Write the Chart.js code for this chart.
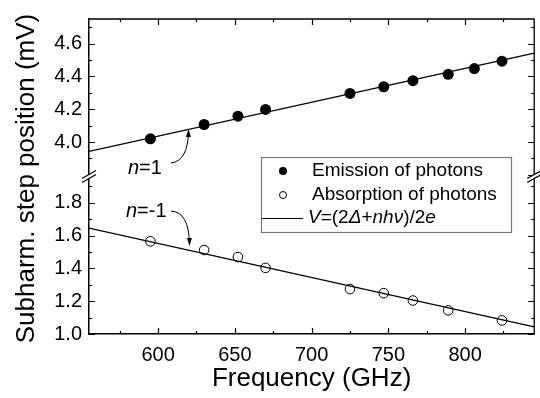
<!DOCTYPE html>
<html>
<head>
<meta charset="utf-8">
<script src="https://cdn.jsdelivr.net/npm/chart.js@4/dist/chart.umd.min.js"></script>
<style>
  html, body { margin: 0; padding: 0; background: #fff; }
</style>
</head>
<body>
<canvas id="c" width="540" height="398"></canvas>
<script>
// frequencies (GHz) and step positions (mV)
const freqEmission = [595, 630, 652, 670, 725, 747, 766, 789, 806, 824];
const vEmission = [4.020, 4.107, 4.158, 4.199, 4.296, 4.337, 4.374, 4.413, 4.448, 4.493];
const freqAbsorption = [595, 630, 652, 670, 725, 747, 766, 789, 824];
const vAbsorption = [1.565, 1.512, 1.469, 1.403, 1.274, 1.249, 1.204, 1.144, 1.083];

// fitted lines V=(2Δ+nhν)/2e, end points
const fitFreq = [555, 845];
const fitUpper = [3.943, 4.542];
const fitLower = [1.645, 1.043];

// tick labels
const xTicks = [600, 650, 700, 750, 800];
const yTicksUpper = [4.0, 4.2, 4.4, 4.6];
const yTicksLower = [1.0, 1.2, 1.4, 1.6, 1.8];

const pts = (xs, ys) => xs.map((x, i) => ({ x: x, y: ys[i] }));
const FONT = "'Liberation Sans', Arial, sans-serif";

// inward ticks, frame, axis break
const framePlugin = {
  id: 'frame',
  afterDraw(chart) {
    const ctx = chart.ctx;
    const { left, right, top, bottom } = chart.chartArea;
    const xs = chart.scales.x;
    ctx.save();
    ctx.strokeStyle = '#000';
    ctx.lineWidth = 1.3;
    ctx.beginPath();
    ctx.moveTo(left, top); ctx.lineTo(right, top); ctx.lineTo(right, bottom);
    ctx.stroke();

    ctx.lineWidth = 1.2;
    ctx.beginPath();
    for (let k = Math.ceil(xs.min / 25); k <= Math.floor(xs.max / 25); k++) {
      const px = Math.round(xs.getPixelForValue(k * 25)) + 0.5;
      const len = k % 2 === 0 ? 6 : 3;
      ctx.moveTo(px, bottom); ctx.lineTo(px, bottom - len);
      ctx.moveTo(px, top); ctx.lineTo(px, top + len);
    }
    [chart.scales.yHigh, chart.scales.yLow].forEach(s => {
      for (let k = Math.ceil(s.min * 10 - 1e-6); k <= Math.floor(s.max * 10 + 1e-6); k++) {
        const py = Math.round(s.getPixelForValue(k / 10)) + 0.5;
        const len = k % 2 === 0 ? 6 : 3;
        ctx.moveTo(left, py); ctx.lineTo(left + len, py);
        ctx.moveTo(right, py); ctx.lineTo(right - len, py);
      }
    });
    ctx.stroke();

    // axis break marks
    const yb = chart.scales.yHigh.bottom;
    [left, right].forEach(x0 => {
      ctx.fillStyle = '#fff';
      ctx.beginPath();
      ctx.moveTo(x0 - 7, yb + 2); ctx.lineTo(x0 + 7, yb - 6);
      ctx.lineTo(x0 + 7, yb - 2); ctx.lineTo(x0 - 7, yb + 6);
      ctx.closePath();
      ctx.fill();
      ctx.beginPath();
      ctx.moveTo(x0 - 7, yb + 2); ctx.lineTo(x0 + 7, yb - 6);
      ctx.moveTo(x0 - 7, yb + 6); ctx.lineTo(x0 + 7, yb - 2);
      ctx.stroke();
    });
    ctx.restore();
  }
};

function drawRuns(ctx, runs, x, y) {
  runs.forEach(([t, it]) => {
    ctx.font = (it ? 'italic ' : '') + ctx._size + 'px ' + FONT;
    ctx.fillText(t, x, y);
    x += ctx.measureText(t).width;
  });
}

function arrow(ctx, x0, y0, cx, cy, x1, y1) {
  ctx.beginPath();
  ctx.moveTo(x0, y0);
  ctx.quadraticCurveTo(cx, cy, x1, y1);
  ctx.stroke();
  const a = Math.atan2(y1 - cy, x1 - cx);
  ctx.beginPath();
  ctx.moveTo(x1 + 2 * Math.cos(a), y1 + 2 * Math.sin(a));
  ctx.lineTo(x1 - 6 * Math.cos(a) + 2.5 * Math.sin(a), y1 - 6 * Math.sin(a) - 2.5 * Math.cos(a));
  ctx.lineTo(x1 - 6 * Math.cos(a) - 2.5 * Math.sin(a), y1 - 6 * Math.sin(a) + 2.5 * Math.cos(a));
  ctx.closePath();
  ctx.fill();
}

const notesPlugin = {
  id: 'notes',
  afterDraw(chart) {
    const ctx = chart.ctx;
    const ca = chart.chartArea;
    ctx.save();
    ctx.fillStyle = '#000';
    ctx.strokeStyle = '#000';

    // y axis title
    ctx.save();
    ctx.translate(33.5, (ca.top + ca.bottom) / 2 + 2);
    ctx.rotate(-Math.PI / 2);
    ctx.font = '26px ' + FONT;
    ctx.textAlign = 'center';
    ctx.textBaseline = 'alphabetic';
    ctx.fillText('Subharm. step position (mV)', 0, 0);
    ctx.restore();

    // n labels and arrows
    ctx.textBaseline = 'alphabetic';
    ctx._size = 20;
    drawRuns(ctx, [['n', true], ['=1', false]], 128, 174);
    drawRuns(ctx, [['n', true], ['=-1', false]], 126, 217);
    ctx.lineWidth = 1;
    arrow(ctx, 171, 163, 188, 161, 188.5, 131);
    arrow(ctx, 171, 211, 189, 212, 189.5, 244);

    // legend
    const bx = ca.left + 172, by = ca.top + 138, bw = 250, bh = 75;
    ctx.fillStyle = '#fff';
    ctx.fillRect(bx, by, bw, bh);
    ctx.strokeStyle = '#777';
    ctx.lineWidth = 1.2;
    ctx.strokeRect(bx + 0.5, by + 0.5, bw, bh);
    ctx.fillStyle = '#000';
    ctx.strokeStyle = '#000';
    ctx.lineWidth = 1;
    ctx.beginPath(); ctx.arc(bx + 22, by + 14, 4, 0, Math.PI * 2); ctx.fill();
    ctx.beginPath(); ctx.arc(bx + 22, by + 38, 3.5, 0, Math.PI * 2); ctx.stroke();
    ctx.beginPath(); ctx.moveTo(bx + 1, by + 61.5); ctx.lineTo(bx + 42, by + 61.5); ctx.stroke();
    ctx.textBaseline = 'middle';
    ctx._size = 19;
    drawRuns(ctx, [['Emission of photons', false]], bx + 51, by + 14);
    drawRuns(ctx, [['Absorption of photons', false]], bx + 51, by + 38);
    drawRuns(ctx, [['V', true], ['=(2', false], ['Δ', true], ['+', false], ['nhν', true], [')/2', false], ['e', true]], bx + 47, by + 61);
    ctx.restore();
  }
};

const tickFont = { family: FONT, size: 20 };

new Chart(document.getElementById('c'), {
  type: 'scatter',
  data: {
    datasets: [
      {
        label: 'Emission of photons',
        data: pts(freqEmission, vEmission),
        yAxisID: 'yHigh',
        pointRadius: 5.5,
        backgroundColor: '#000',
        borderColor: '#000',
        borderWidth: 0
      },
      {
        label: 'Absorption of photons',
        data: pts(freqAbsorption, vAbsorption),
        yAxisID: 'yLow',
        pointRadius: 4.8,
        backgroundColor: 'rgba(0,0,0,0)',
        borderColor: '#000',
        borderWidth: 1
      },
      {
        label: 'fit n=1',
        data: pts(fitFreq, fitUpper),
        yAxisID: 'yHigh',
        showLine: true,
        pointRadius: 0,
        borderColor: '#000',
        borderWidth: 1.2
      },
      {
        label: 'fit n=-1',
        data: pts(fitFreq, fitLower),
        yAxisID: 'yLow',
        showLine: true,
        pointRadius: 0,
        borderColor: '#000',
        borderWidth: 1.2
      }
    ]
  },
  options: {
    responsive: false,
    animation: false,
    layout: { padding: { left: 0, top: 7, right: 3, bottom: 0 } },
    plugins: { legend: { display: false }, tooltip: { enabled: false } },
    scales: {
      x: {
        type: 'linear',
        min: 555,
        max: 845,
        afterFit: s => { s.height = 64; },
        afterBuildTicks: s => { s.ticks = xTicks.map(v => ({ value: v })); },
        grid: { display: false, drawTicks: false },
        border: { display: true, color: '#000', width: 1.5 },
        ticks: { font: tickFont, color: '#000', padding: 9, autoSkip: false, maxRotation: 0 },
        title: {
          display: true,
          text: 'Frequency (GHz)',
          font: { family: FONT, size: 26 },
          color: '#000',
          padding: { top: 0, bottom: 4 }
        }
      },
      yLow: {
        type: 'linear',
        position: 'left',
        stack: 'v',
        stackWeight: 1,
        min: 1.0,
        max: 1.96,
        afterFit: s => { s.width = 89; },
        afterBuildTicks: s => { s.ticks = yTicksLower.map(v => ({ value: v })); },
        grid: { display: false, drawTicks: false },
        border: { display: true, color: '#000', width: 1.5 },
        ticks: { font: tickFont, color: '#000', padding: 7, autoSkip: false, callback: v => v.toFixed(1) }
      },
      yHigh: {
        type: 'linear',
        position: 'left',
        stack: 'v',
        stackWeight: 1,
        min: 3.79,
        max: 4.75,
        afterFit: s => { s.width = 89; },
        afterBuildTicks: s => { s.ticks = yTicksUpper.map(v => ({ value: v })); },
        grid: { display: false, drawTicks: false },
        border: { display: true, color: '#000', width: 1.5 },
        ticks: { font: tickFont, color: '#000', padding: 7, autoSkip: false, callback: v => v.toFixed(1) }
      }
    }
  },
  plugins: [framePlugin, notesPlugin]
});
</script>
</body>
</html>
